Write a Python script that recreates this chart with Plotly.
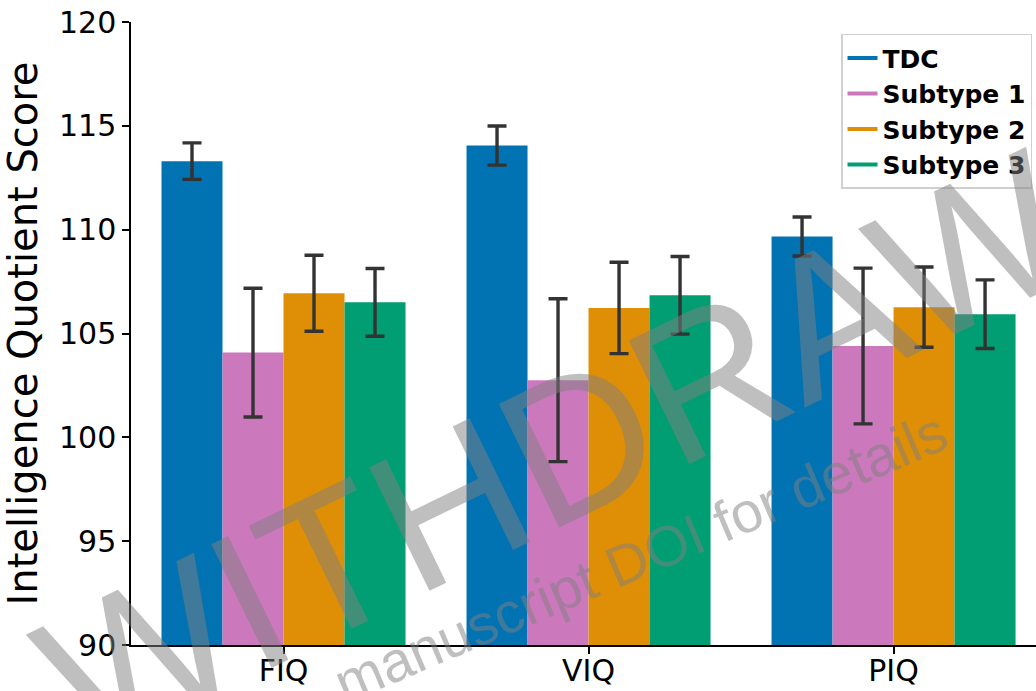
import plotly.graph_objects as go

# IQ measures on the x axis
measures = ["FIQ", "VIQ", "PIQ"]

# group labels and colours
groups = ["TDC", "Subtype 1", "Subtype 2", "Subtype 3"]
colors = ["#0173b2", "#cc78bc", "#de8f05", "#029e73"]

# mean scores per group (FIQ, VIQ, PIQ)
tdc_mean = [113.3, 114.05, 109.67]
sub1_mean = [104.08, 102.75, 104.4]
sub2_mean = [106.94, 106.23, 106.27]
sub3_mean = [106.5, 106.84, 105.93]

# error bar half-lengths
tdc_err = [0.88, 0.94, 0.94]
sub1_err = [3.1, 3.92, 3.75]
sub2_err = [1.83, 2.2, 1.93]
sub3_err = [1.63, 1.87, 1.65]

means = [tdc_mean, sub1_mean, sub2_mean, sub3_mean]
errors = [tdc_err, sub1_err, sub2_err, sub3_err]

W, H = 1036, 691
fig = go.Figure()

for name, color, m, e in zip(groups, colors, means, errors):
    fig.add_trace(go.Bar(
        x=measures, y=m, name=name, showlegend=False,
        marker=dict(color=color, line=dict(width=0)),
        error_y=dict(type="data", array=e, color="#333333",
                     thickness=3.4, width=9.5),
    ))

# line-style legend entries
for name, color in zip(groups, colors):
    fig.add_trace(go.Scatter(
        x=[None], y=[None], mode="lines", name=name,
        line=dict(color=color, width=4),
    ))

fig.update_layout(
    width=W, height=H,
    margin=dict(l=131, r=0, t=22, b=46, pad=0),
    paper_bgcolor="white", plot_bgcolor="white",
    barmode="group", bargap=0.2, bargroupgap=0,
    font=dict(family="DejaVu Sans", color="black"),
    legend=dict(
        x=0.9956, xanchor="right", y=0.981, yanchor="top",
        bgcolor="rgba(255,255,255,0.8)", bordercolor="#d0d0d0", borderwidth=1.5,
        font=dict(family="DejaVu Sans", size=25, color="black", weight="bold"),
    ),
    xaxis=dict(
        type="category", range=[-0.5, 2.467], automargin=False,
        showline=True, linecolor="black", linewidth=1.5,
        ticks="outside", ticklen=7, tickwidth=1.5, tickcolor="black",
        tickfont=dict(size=30), ticklabelstandoff=-9,
        showgrid=False, zeroline=False,
    ),
    yaxis=dict(
        range=[90, 120], tickvals=[90, 95, 100, 105, 110, 115, 120],
        automargin=False,
        showline=True, linecolor="black", linewidth=1.5,
        ticks="outside", ticklen=7, tickwidth=1.5, tickcolor="black",
        tickfont=dict(size=30), showgrid=False, zeroline=False,
        title=dict(text="Intelligence Quotient Score", font=dict(size=40), standoff=12),
    ),
)

# withdrawal watermark
fig.add_annotation(
    text="WITHDRAWN", xref="paper", yref="paper",
    x=(620 - 131) / 905, y=(645 - 420) / 623,
    xanchor="center", yanchor="middle", showarrow=False, textangle=-26,
    font=dict(family="Liberation Sans", size=200, color="rgba(128,128,128,0.5)"),
)
fig.add_annotation(
    text="manuscript DOI for details", xref="paper", yref="paper",
    x=(640 - 131) / 905, y=(645 - 557) / 623,
    xanchor="center", yanchor="middle", showarrow=False, textangle=-23,
    font=dict(family="Liberation Sans", size=57, color="rgba(128,128,128,0.5)"),
)

fig.write_html("out.html")
